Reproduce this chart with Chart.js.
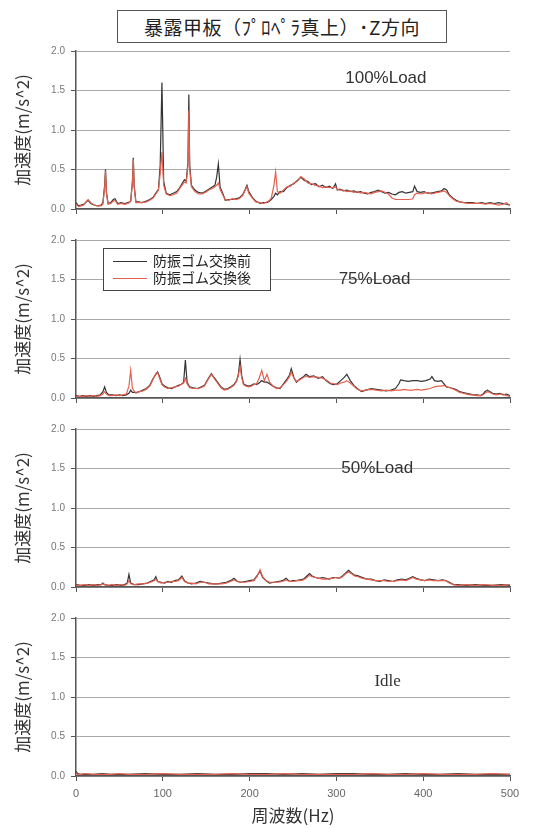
<!DOCTYPE html>
<html>
<head>
<meta charset="utf-8">
<script src="https://cdn.jsdelivr.net/npm/chart.js@4"></script>
<style>
  body { margin: 0; background: #fff; width: 533px; height: 829px; position: relative; overflow: hidden; }
  canvas { position: absolute; left: 0; }
  #title {
    position: absolute; left: 117px; top: 10px; width: 330px; height: 33px; z-index: 2;
    box-sizing: border-box; border: 1px solid #555; background: #fff;
    font: 19px "Noto Sans CJK JP"; color: #222; text-align: center; line-height: 31px; letter-spacing: 0.5px;
  }
</style>
</head>
<body>
<div id="title">暴露甲板（ﾌﾟﾛﾍﾟﾗ真上）･Z方向</div>
<canvas id="p100" width="533" height="182" style="top:39px"></canvas>
<canvas id="p75" width="533" height="182" style="top:228px"></canvas>
<canvas id="p50" width="533" height="182" style="top:417px"></canvas>
<canvas id="pIdle" width="533" height="223" style="top:606px"></canvas>
<script>
// names and ticks
const seriesNames = ['防振ゴム交換前', '防振ゴム交換後'];
const loadNames = ['100%Load', '75%Load', '50%Load', 'Idle'];
const xTicks = [0, 100, 200, 300, 400, 500];
const yTicks = [0, 0.5, 1.0, 1.5, 2.0];

// 100% load
const freq100 = [0,3,6,9,12,14,17,21,25,29, 31,33,34,35,37,40,43,45,48,52, 56,60,63,65,66,67,69,72,76,81,
  85,89,92,95,97,99,101,104,108,112, 116,119,122,125,127,129,130,131,133,137, 141,145,149,153,157,160,162,164,166,169,
  172,176,180,184,188,192,195,197,199,203, 207,212,216,220,223,225,228,230,232,235, 239,243,247,251,255,259,263,267,271,276,
  280,284,288,292,296,299,301,304,308,312, 316,320,324,328,332,336,340,344,348,352, 356,360,364,368,372,376,380,384,388,390,
  393,397,401,405,409,413,417,421,424,427, 430,434,438,442,447,452,457,462,467,472, 477,482,487,492,496,500];
const before100 = [0.08,0.04,0.05,0.06,0.09,0.11,0.07,0.05,0.04,0.05, 0.08,0.30,0.50,0.22,0.07,0.08,0.12,0.13,0.07,0.08,
  0.07,0.08,0.10,0.35,0.65,0.30,0.09,0.09,0.08,0.10, 0.12,0.15,0.20,0.25,0.55,1.60,0.35,0.20,0.18,0.20,
  0.22,0.26,0.32,0.37,0.35,0.60,1.45,0.55,0.30,0.24, 0.21,0.20,0.22,0.25,0.28,0.30,0.40,0.57,0.28,0.20,
  0.11,0.12,0.12,0.13,0.14,0.18,0.25,0.30,0.22,0.15, 0.10,0.07,0.08,0.08,0.10,0.12,0.16,0.20,0.18,0.22,
  0.22,0.27,0.30,0.32,0.36,0.40,0.36,0.35,0.31,0.32, 0.28,0.30,0.27,0.29,0.26,0.32,0.24,0.25,0.23,0.24,
  0.22,0.23,0.21,0.22,0.20,0.19,0.21,0.22,0.24,0.22, 0.20,0.21,0.19,0.18,0.21,0.22,0.20,0.21,0.22,0.29,
  0.22,0.21,0.22,0.20,0.20,0.21,0.22,0.23,0.26,0.24, 0.18,0.14,0.11,0.09,0.08,0.08,0.08,0.07,0.08,0.07,
  0.08,0.07,0.08,0.07,0.06,0.05];
const after100 = [0.06,0.03,0.04,0.05,0.10,0.12,0.08,0.05,0.04,0.04, 0.06,0.28,0.48,0.20,0.06,0.07,0.10,0.11,0.06,0.07,
  0.06,0.07,0.10,0.33,0.63,0.28,0.08,0.08,0.08,0.09, 0.11,0.14,0.19,0.24,0.45,0.72,0.30,0.19,0.17,0.18,
  0.20,0.25,0.30,0.34,0.33,0.55,1.25,0.50,0.28,0.22, 0.19,0.19,0.21,0.24,0.26,0.28,0.30,0.33,0.25,0.18,
  0.12,0.11,0.13,0.12,0.13,0.17,0.24,0.28,0.20,0.14, 0.09,0.08,0.07,0.09,0.11,0.14,0.30,0.47,0.22,0.20,
  0.24,0.28,0.29,0.33,0.35,0.41,0.38,0.33,0.32,0.30, 0.29,0.27,0.28,0.27,0.27,0.28,0.25,0.24,0.24,0.22,
  0.23,0.21,0.22,0.20,0.21,0.20,0.19,0.21,0.22,0.23, 0.21,0.19,0.14,0.12,0.12,0.12,0.12,0.12,0.13,0.18,
  0.20,0.19,0.20,0.21,0.19,0.20,0.21,0.22,0.23,0.21, 0.17,0.13,0.10,0.09,0.08,0.07,0.07,0.07,0.07,0.06,
  0.07,0.06,0.05,0.06,0.08,0.04];

// 75% load
const freq75 = [0,4,8,12,16,20,24,28,31,33, 35,38,42,46,50,54,58,61,63,65, 69,73,77,81,85,89,92,94,96,99,
  102,106,110,114,118,121,124,126,128,131, 135,140,144,148,152,156,159,163,167,171, 175,178,182,185,187,189,191,193,196,199,
  202,205,208,211,214,217,220,223,227,231, 235,239,243,246,248,251,254,258,262,265, 269,274,279,284,288,293,297,301,305,309,
  312,316,320,324,329,334,340,346,352,357, 363,368,372,374,378,383,388,393,398,403, 408,410,413,417,421,424,427,431,435,439,
  442,446,450,454,458,462,466,469,471,474, 477,480,484,488,492,496,500];
const before75 = [0.03,0.02,0.03,0.02,0.03,0.02,0.03,0.04,0.08,0.14, 0.07,0.04,0.04,0.03,0.04,0.03,0.04,0.06,0.10,0.07,
  0.07,0.08,0.10,0.12,0.16,0.25,0.30,0.33,0.28,0.18, 0.15,0.13,0.12,0.14,0.16,0.17,0.20,0.48,0.20,0.14,
  0.13,0.12,0.14,0.16,0.24,0.31,0.26,0.20,0.14,0.11, 0.12,0.14,0.17,0.22,0.30,0.49,0.28,0.18,0.16,0.15,
  0.16,0.18,0.17,0.19,0.22,0.20,0.20,0.18,0.15,0.13, 0.12,0.18,0.24,0.29,0.37,0.26,0.20,0.24,0.27,0.30,
  0.27,0.28,0.25,0.27,0.22,0.18,0.17,0.18,0.22,0.26, 0.30,0.22,0.16,0.12,0.08,0.10,0.12,0.11,0.10,0.09,
  0.10,0.12,0.18,0.23,0.22,0.21,0.22,0.22,0.21,0.22, 0.24,0.27,0.22,0.21,0.22,0.18,0.14,0.13,0.12,0.10,
  0.08,0.07,0.06,0.05,0.04,0.04,0.03,0.05,0.08,0.10, 0.08,0.06,0.05,0.06,0.04,0.05,0.03];
const after75 = [0.02,0.02,0.02,0.03,0.02,0.03,0.02,0.03,0.05,0.08, 0.05,0.03,0.03,0.04,0.03,0.04,0.05,0.15,0.35,0.12,
  0.06,0.08,0.09,0.11,0.15,0.24,0.31,0.32,0.26,0.17, 0.14,0.12,0.13,0.14,0.15,0.17,0.19,0.25,0.18,0.13,
  0.12,0.12,0.13,0.15,0.23,0.30,0.25,0.19,0.13,0.10, 0.11,0.13,0.16,0.21,0.28,0.40,0.25,0.17,0.15,0.14,
  0.15,0.17,0.18,0.25,0.35,0.22,0.30,0.20,0.15,0.12, 0.13,0.17,0.22,0.27,0.33,0.25,0.21,0.23,0.26,0.28,
  0.26,0.27,0.26,0.25,0.23,0.19,0.18,0.17,0.19,0.20, 0.22,0.19,0.15,0.11,0.09,0.10,0.11,0.10,0.09,0.10,
  0.09,0.10,0.10,0.10,0.11,0.10,0.10,0.11,0.10,0.11, 0.12,0.13,0.14,0.15,0.15,0.16,0.14,0.13,0.11,0.09,
  0.07,0.06,0.05,0.04,0.04,0.03,0.03,0.04,0.06,0.08, 0.07,0.05,0.04,0.05,0.05,0.03,0.02];

// 50% load
const freq50 = [0,5,10,15,20,25,29,31,33,37, 42,47,52,56,59,61,63,67,72,77, 82,86,90,92,94,98,102,106,110,114,
  118,122,125,129,133,138,143,148,153,158, 163,168,173,178,182,186,190,195,200,205, 209,212,215,219,223,228,233,238,242,246,
  250,254,258,262,266,269,272,276,280,284, 288,292,296,299,303,307,311,314,317,321, 325,330,335,340,345,350,355,360,365,370,
  375,380,384,388,392,397,402,407,412,417, 422,426,430,435,440,450,460,470,480,490,500];
const before50 = [0.03,0.02,0.02,0.03,0.02,0.03,0.03,0.05,0.03,0.02, 0.02,0.03,0.02,0.03,0.05,0.16,0.05,0.03,0.03,0.04,
  0.05,0.07,0.09,0.13,0.07,0.06,0.05,0.07,0.06,0.08, 0.09,0.14,0.08,0.05,0.04,0.05,0.07,0.06,0.05,0.04,
  0.04,0.05,0.06,0.08,0.11,0.07,0.06,0.07,0.08,0.09, 0.15,0.20,0.12,0.08,0.05,0.06,0.07,0.08,0.11,0.07,
  0.08,0.08,0.09,0.10,0.14,0.17,0.14,0.12,0.11,0.12, 0.11,0.10,0.12,0.12,0.11,0.14,0.18,0.21,0.18,0.15,
  0.14,0.12,0.10,0.10,0.08,0.07,0.09,0.08,0.07,0.09, 0.10,0.09,0.11,0.13,0.11,0.09,0.08,0.10,0.09,0.08,
  0.09,0.08,0.06,0.03,0.03,0.02,0.03,0.02,0.02,0.03,0.02];
const after50 = [0.02,0.02,0.03,0.02,0.03,0.02,0.03,0.04,0.03,0.02, 0.03,0.02,0.03,0.02,0.04,0.08,0.04,0.03,0.04,0.04,
  0.05,0.06,0.08,0.10,0.07,0.05,0.06,0.06,0.07,0.07, 0.08,0.12,0.07,0.05,0.05,0.04,0.06,0.06,0.04,0.04,
  0.04,0.04,0.05,0.07,0.09,0.07,0.06,0.06,0.07,0.08, 0.14,0.22,0.13,0.08,0.06,0.06,0.06,0.07,0.09,0.07,
  0.07,0.08,0.08,0.09,0.12,0.15,0.13,0.12,0.11,0.10, 0.10,0.11,0.11,0.12,0.11,0.13,0.17,0.19,0.17,0.14,
  0.13,0.11,0.10,0.09,0.08,0.08,0.08,0.07,0.07,0.08, 0.09,0.08,0.10,0.12,0.10,0.09,0.08,0.09,0.08,0.08,
  0.08,0.08,0.05,0.03,0.02,0.03,0.02,0.03,0.02,0.02,0.03];

// idle
const freqIdle = [0,2,5,10,20,30,40,50,60,80, 100,120,140,160,180,200,220,240,260,280, 300,320,340,360,380,400,420,440,460,480,500];
const beforeIdle = [0.06,0.03,0.02,0.02,0.02,0.03,0.02,0.02,0.02,0.03, 0.02,0.02,0.03,0.02,0.02,0.03,0.03,0.02,0.03,0.02,
  0.03,0.03,0.02,0.02,0.03,0.02,0.02,0.03,0.02,0.02,0.02];
const afterIdle = [0.04,0.02,0.02,0.03,0.02,0.02,0.02,0.03,0.02,0.02, 0.03,0.02,0.02,0.02,0.03,0.02,0.02,0.03,0.02,0.02,
  0.02,0.02,0.03,0.02,0.02,0.03,0.02,0.02,0.02,0.03,0.02];

const BLACK = '#333333';
const RED = '#e4604f';
const AXIS = '#555555';

function pts(f, v) {
  return f.map((x, i) => ({ x: x, y: v[i] }));
}

// text like "100%Load" placed in data coordinates
const loadLabel = {
  id: 'loadLabel',
  afterDatasetsDraw(chart, args, opts) {
    const { ctx, scales: { x, y } } = chart;
    ctx.save();
    ctx.font = opts.font;
    ctx.fillStyle = '#333';
    ctx.textAlign = 'center';
    ctx.textBaseline = 'middle';
    ctx.fillText(opts.text, x.getPixelForValue(opts.x), y.getPixelForValue(opts.y));
    ctx.restore();
  }
};

// boxed legend inside the 75% panel
const boxLegend = {
  id: 'boxLegend',
  afterDraw(chart, args, opts) {
    if (!opts.show) return;
    const { ctx, chartArea } = chart;
    const left = chartArea.left + 27, top = chartArea.top + 8;
    ctx.save();
    ctx.fillStyle = '#fff';
    ctx.fillRect(left, top, 167, 42);
    ctx.strokeStyle = '#444';
    ctx.lineWidth = 1;
    ctx.strokeRect(left + 0.5, top + 0.5, 167, 42);
    ctx.font = '14px "Noto Sans CJK JP"';
    ctx.textBaseline = 'middle';
    chart.data.datasets.forEach((ds, i) => {
      const yy = top + 13 + i * 17;
      ctx.strokeStyle = ds.borderColor;
      ctx.lineWidth = 1.2;
      ctx.beginPath();
      ctx.moveTo(left + 10, yy + 0.5);
      ctx.lineTo(left + 44, yy + 0.5);
      ctx.stroke();
      ctx.fillStyle = '#222';
      ctx.fillText(ds.label, left + 50, yy);
    });
    ctx.restore();
  }
};

function makePanel(id, f, b, a, label, bottom, legend) {
  const canvas = document.getElementById(id);
  const H = canvas.height;
  new Chart(canvas, {
    type: 'line',
    data: {
      datasets: [
        { label: seriesNames[0], data: pts(f, b), borderColor: BLACK, borderWidth: 1.2, pointRadius: 0, order: 2 },
        { label: seriesNames[1], data: pts(f, a), borderColor: RED, borderWidth: 1.2, pointRadius: 0, order: 1 }
      ]
    },
    options: {
      responsive: false,
      animation: false,
      layout: { padding: { left: 0, right: 23, top: 10, bottom: 0 } },
      plugins: {
        legend: { display: false },
        tooltip: { enabled: false },
        loadLabel: label,
        boxLegend: { show: legend }
      },
      scales: {
        x: {
          type: 'linear', min: 0, max: 500,
          afterBuildTicks: s => { s.ticks = xTicks.map(v => ({ value: v })); },
          afterFit: s => { s.height = H - 170; },
          grid: { drawOnChartArea: false, tickLength: 5, tickColor: AXIS },
          border: { color: AXIS, width: 1.5 },
          ticks: { display: bottom, padding: 6, color: '#666', font: { family: 'Liberation Sans', size: 11 } },
          title: {
            display: bottom, text: '周波数(Hz)', color: '#333',
            font: { family: 'Noto Sans CJK JP', size: 17 }, padding: { top: 2, bottom: 3 }
          }
        },
        y: {
          min: 0, max: 2,
          afterBuildTicks: s => { s.ticks = yTicks.map(v => ({ value: v })); },
          afterFit: s => { s.width = 76; },
          grid: { color: '#aaa', tickLength: 5, tickColor: AXIS },
          border: { color: AXIS, width: 1.5 },
          ticks: { padding: 6, color: '#777', font: { family: 'Liberation Sans', size: 10 }, callback: v => v.toFixed(1) },
          title: {
            display: true, text: '加速度(m/s^2)', color: '#333',
            font: { family: 'Noto Sans CJK JP', size: 17 }, padding: { top: 12, bottom: 0 }
          }
        }
      }
    },
    plugins: [loadLabel, boxLegend]
  });
}

const sans = '17px "Liberation Sans"';
makePanel('p100', freq100, before100, after100, { text: loadNames[0], x: 357, y: 1.65, font: sans }, false, false);
makePanel('p75', freq75, before75, after75, { text: loadNames[1], x: 344, y: 1.5, font: sans }, false, true);
makePanel('p50', freq50, before50, after50, { text: loadNames[2], x: 347, y: 1.5, font: sans }, false, false);
makePanel('pIdle', freqIdle, beforeIdle, afterIdle, { text: loadNames[3], x: 359, y: 1.19, font: '17px "Liberation Serif"' }, true, false);
</script>
</body>
</html>
